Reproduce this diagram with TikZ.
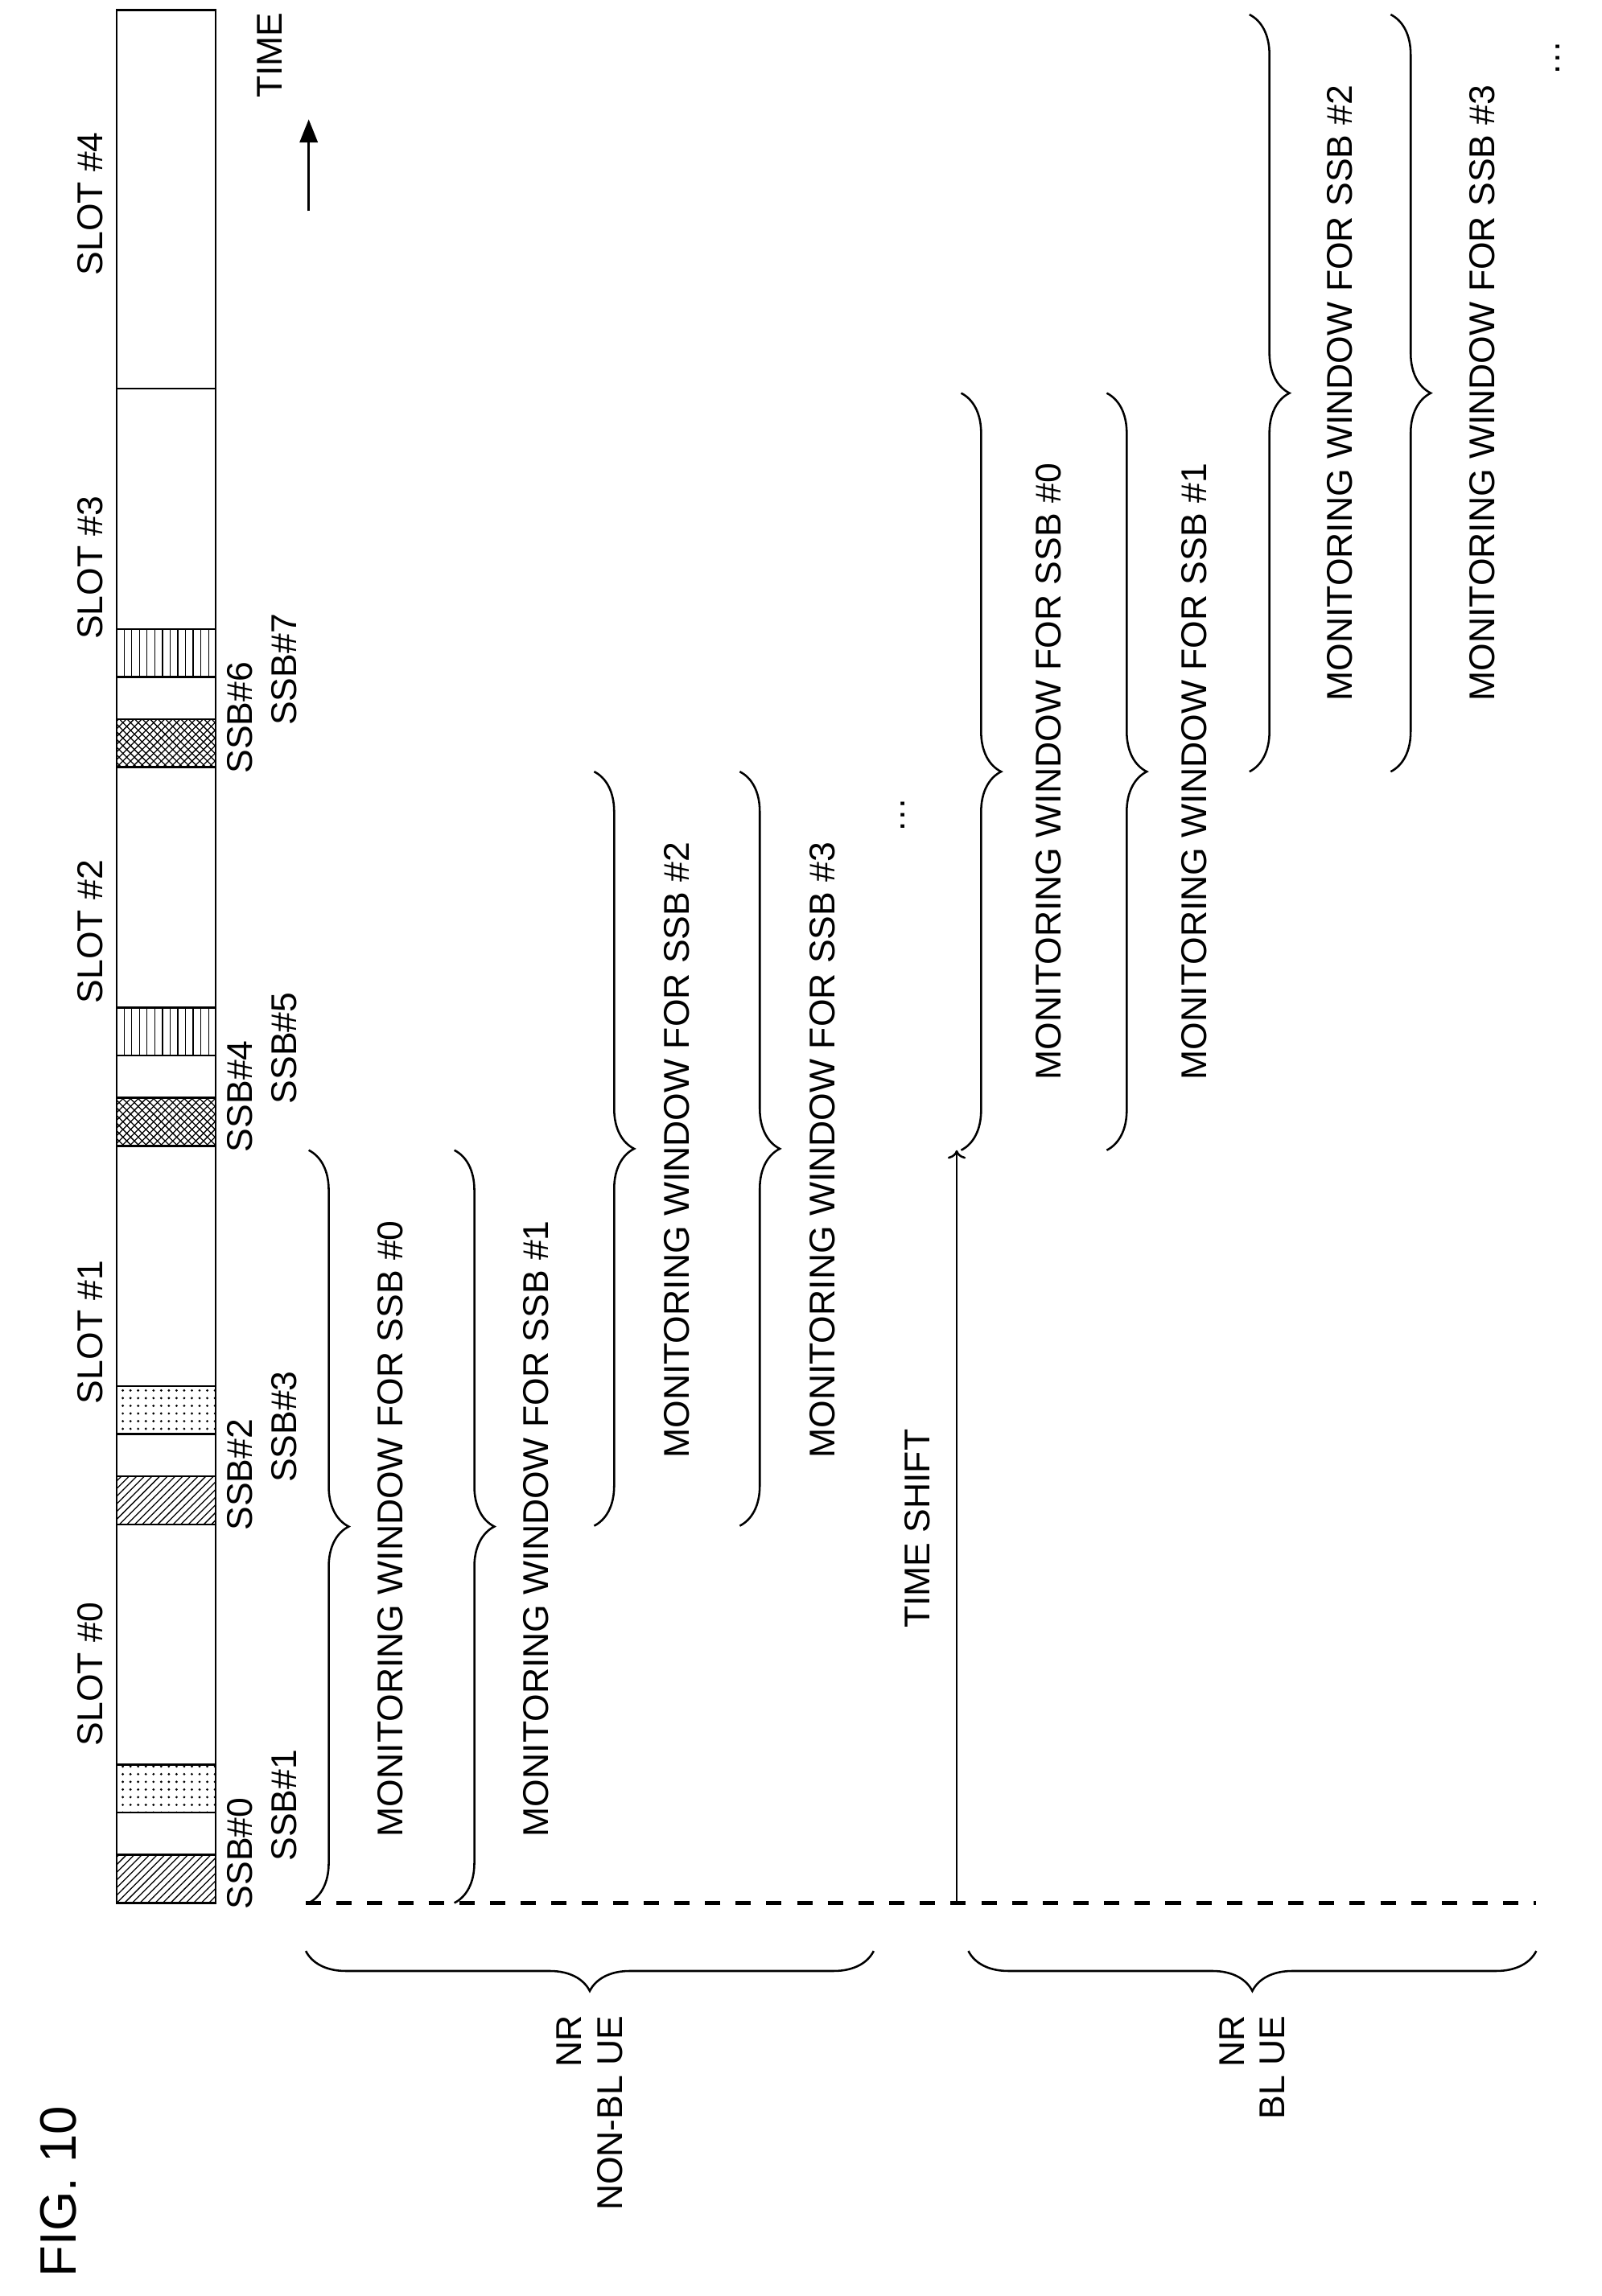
\documentclass[tikz,border=0pt]{standalone}
\usepackage{fontspec}
\setmainfont{Liberation Sans}
\usetikzlibrary{patterns,decorations.pathreplacing,arrows.meta}

\begin{document}
\begin{tikzpicture}[x=0.02cm,y=-0.02cm,
line width=0.8pt,
txt/.style={rotate=90,font=\fontsize{14}{16}\selectfont,inner sep=1pt},
win/.style={decorate,decoration={brace,amplitude=0.55cm}},
ssb/.style={draw},
]
\useasboundingbox (0,0) rectangle (1100,1577);
% slots with their SSB blocks
\foreach \k/\pa/\pb in {0/north east lines/dots,1/north east lines/dots,2/crosshatch/vertical lines,3/crosshatch/vertical lines}{
  \draw[ssb,pattern=\pa] (80,1307-260*\k-33) rectangle (148,1307-260*\k);
  \draw[ssb,pattern=\pb] (80,1307-260*\k-95) rectangle (148,1307-260*\k-62);
}
\foreach \k in {0,...,4}
  \draw (80,1047-260*\k) rectangle (148,1307-260*\k);
\foreach \k/\y in {0/1150,1/915,2/640,3/390,4/140}
  \node[txt] (slot\k) at (62,\y) {SLOT \#\k};
% SSB labels
\foreach \k in {0,1,2,3}{
  \pgfmathtruncatemacro{\a}{2*\k}
  \pgfmathtruncatemacro{\b}{2*\k+1}
  \node[txt] (ssb\a) at (165,1273-260*\k) {SSB\#\a};
  \node[txt] (ssb\b) at (195,1240-260*\k) {SSB\#\b};
}
\node[txt] (time) at (185,38) {TIME};
\coordinate (t0) at (212,145);
\coordinate (t1) at (212,82);
\draw[-{Triangle[length=9pt,width=7pt]}] (t0) -- (t1);
% time line
\coordinate (d0) at (210,1307);
\coordinate (d1) at (1055,1307);
\draw[line width=1.6pt,dash pattern=on 6pt off 6pt] (d0) -- (d1);
% NR non-BL UE windows
\draw[win] (212,790) -- (212,1307);
\node[txt] (w0) at (268,1050) {MONITORING WINDOW FOR SSB \#0};
\draw[win] (312,790) -- (312,1307);
\node[txt] (w1) at (368,1050) {MONITORING WINDOW FOR SSB \#1};
\draw[win] (408,530) -- (408,1048);
\node[txt] (w2) at (465,790) {MONITORING WINDOW FOR SSB \#2};
\draw[win] (508,530) -- (508,1048);
\node[txt] (w3) at (565,790) {MONITORING WINDOW FOR SSB \#3};
\node[txt] (dots1) at (620,560) {\dots};
% time shift
\node[txt] (shift) at (630,1050) {TIME SHIFT};
\coordinate (s0) at (657,1307);
\coordinate (s1) at (657,790);
\draw[->] (s0) -- (s1);
% NR BL UE windows
\draw[win] (660,270) -- (660,790);
\node[txt] (b0) at (720,530) {MONITORING WINDOW FOR SSB \#0};
\draw[win] (760,270) -- (760,790);
\node[txt] (b1) at (820,530) {MONITORING WINDOW FOR SSB \#1};
\draw[win] (858,10) -- (858,530);
\node[txt] (b2) at (920,270) {MONITORING WINDOW FOR SSB \#2};
\draw[win] (955,10) -- (955,530);
\node[txt] (b3) at (1018,270) {MONITORING WINDOW FOR SSB \#3};
\node[txt] (dots2) at (1070,40) {\dots};
% UE groups
\draw[win] (600,1340) -- (210,1340);
\node[txt,anchor=east,align=right] (nonbl) at (405,1382) {NR\\NON-BL UE};
\draw[win] (1055,1340) -- (665,1340);
\node[txt,anchor=east,align=right] (bl) at (860,1382) {NR\\BL UE};
\node[rotate=90,anchor=east,font=\fontsize{20}{22}\selectfont] (fig) at (40,1440) {FIG. 10};
\end{tikzpicture}
\end{document}
